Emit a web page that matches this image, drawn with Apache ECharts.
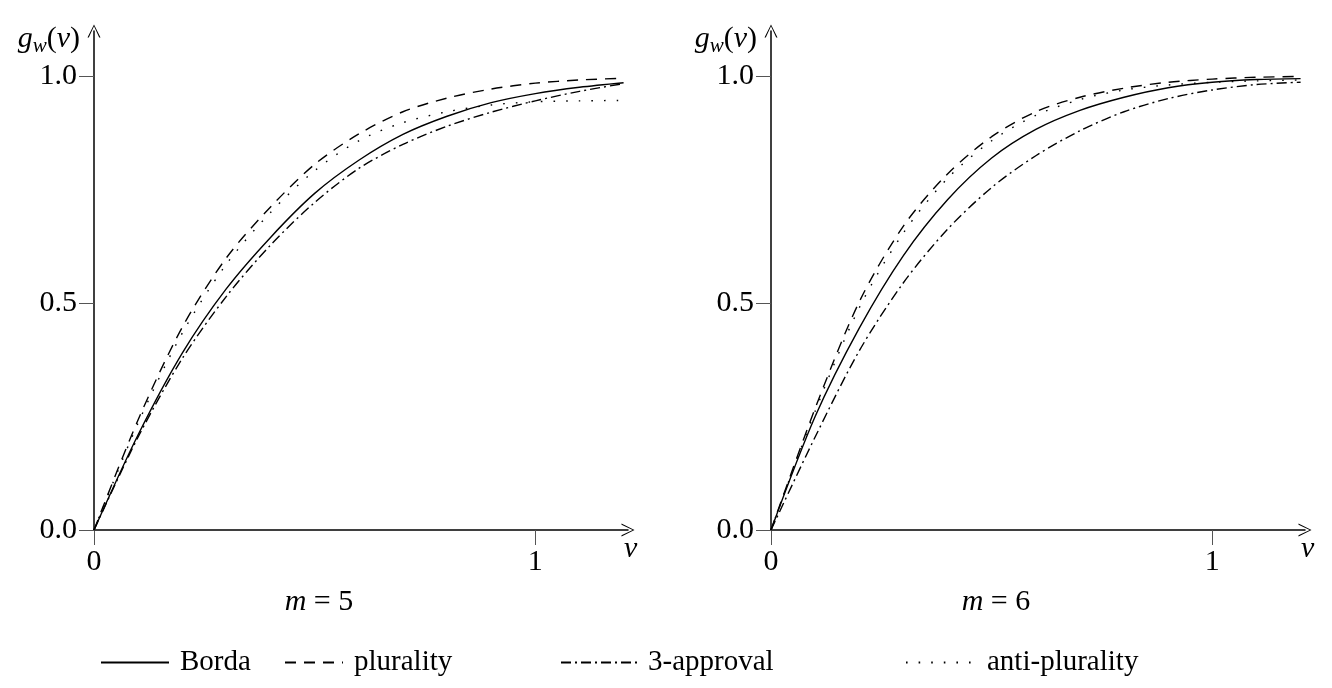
<!DOCTYPE html>
<html>
<head>
    <meta charset="utf-8">
    <title>g_w(v)</title>
    <script src="https://cdn.jsdelivr.net/npm/echarts@6/dist/echarts.min.js"></script>
    <style>
        html, body { margin: 0; padding: 0; background: #fff; }
        #chart { width: 1332px; height: 688px; }
    </style>
</head>
<body>
    <div id="chart"></div>
</body>
<script>
    // v values shared by every curve
    var vs = [0, 0.1, 0.2, 0.3, 0.4, 0.5, 0.6, 0.7, 0.8, 0.9, 1.0, 1.1, 1.2];

    // m = 5
    var bordaM5 = [0, 0.21, 0.39, 0.532, 0.645, 0.742, 0.815, 0.872, 0.912, 0.942, 0.962, 0.976, 0.986];
    var pluralityM5 = [0, 0.243, 0.447, 0.6, 0.712, 0.806, 0.873, 0.922, 0.952, 0.972, 0.985, 0.992, 0.996];
    var approvalM5 = [0, 0.205, 0.378, 0.515, 0.628, 0.722, 0.797, 0.85, 0.89, 0.921, 0.946, 0.967, 0.984];
    var antiM5 = [0, 0.236, 0.434, 0.586, 0.7, 0.792, 0.858, 0.898, 0.922, 0.937, 0.944, 0.946, 0.947];

    // m = 6
    var bordaM6 = [0, 0.25, 0.445, 0.605, 0.728, 0.82, 0.883, 0.925, 0.954, 0.975, 0.987, 0.993, 0.995];
    var pluralityM6 = [0, 0.268, 0.503, 0.67, 0.785, 0.867, 0.922, 0.954, 0.974, 0.987, 0.994, 0.998, 1.0];
    var approvalM6 = [0, 0.205, 0.395, 0.545, 0.663, 0.755, 0.825, 0.88, 0.922, 0.951, 0.97, 0.982, 0.987];
    var antiM6 = [0, 0.262, 0.49, 0.655, 0.775, 0.858, 0.914, 0.949, 0.97, 0.981, 0.987, 0.99, 0.992];

    var xTicks = [0, 1];
    var xTickLabels = ['0', '1'];
    var yTicks = [0, 0.5, 1];
    var yTickLabels = ['0.0', '0.5', '1.0'];
    var panelTitles = ['5', '6'];

    var FONT = 'Liberation Serif';
    var ARROW = 'path://M50,0 L100,100 L90,100 L50,14 L10,100 L0,100 Z';

    function pairs(ys) {
        return vs.map(function (v, i) { return [v, ys[i]]; });
    }

    function xAxisFor(gi) {
        return {
            gridIndex: gi,
            type: 'value',
            min: 0,
            max: 1.21,
            name: 'v',
            nameLocation: 'end',
            nameGap: -4,
            nameTextStyle: {
                fontFamily: FONT, fontSize: 30, fontStyle: 'italic', color: '#000',
                verticalAlign: 'top', padding: [4, 0, 0, 0]
            },
            axisLine: {
                show: true, onZero: false,
                symbol: ['none', ARROW], symbolSize: [13, 17],
                lineStyle: { color: '#000', width: 1.5 }
            },
            axisTick: { show: true, length: 15, customValues: xTicks, lineStyle: { color: '#555', width: 1 } },
            axisLabel: {
                customValues: xTicks, margin: 17,
                fontFamily: FONT, fontSize: 30, color: '#000',
                formatter: function (val) { return xTickLabels[xTicks.indexOf(val)]; }
            },
            splitLine: { show: false }
        };
    }

    function yAxisFor(gi) {
        return {
            gridIndex: gi,
            type: 'value',
            min: 0,
            max: 1.1,
            name: '{i|g}{s|w}{n|(}{i|v}{n|)}',
            nameLocation: 'end',
            nameGap: -8,
            nameTextStyle: {
                align: 'right', verticalAlign: 'middle', padding: [0, 14, 0, 0],
                rich: {
                    i: { fontFamily: FONT, fontSize: 30, fontStyle: 'italic', color: '#000' },
                    n: { fontFamily: FONT, fontSize: 30, color: '#000' },
                    s: { fontFamily: FONT, fontSize: 21, fontStyle: 'italic', color: '#000', padding: [14, 0, 0, 0] }
                }
            },
            axisLine: {
                show: true, onZero: false,
                symbol: ['none', ARROW], symbolSize: [13, 17],
                lineStyle: { color: '#000', width: 1.5 }
            },
            axisTick: { show: true, length: 15, customValues: yTicks, lineStyle: { color: '#555', width: 1 } },
            axisLabel: {
                customValues: yTicks, margin: 17,
                fontFamily: FONT, fontSize: 30, color: '#000',
                formatter: function (val) { return yTickLabels[yTicks.indexOf(val)]; }
            },
            splitLine: { show: false }
        };
    }

    var styles = {
        'Borda': { type: 'solid' },
        'plurality': { type: [11, 8] },
        '3-approval': { type: [10, 4, 2, 4] },
        'anti-plurality': { type: [1.6, 11] }
    };

    function line(name, gi, ys) {
        return {
            name: name,
            type: 'line',
            xAxisIndex: gi,
            yAxisIndex: gi,
            data: pairs(ys),
            smooth: 0.3,
            symbol: 'none',
            silent: true,
            lineStyle: { color: '#000', width: 1.4, type: styles[name].type }
        };
    }

    function legendFor(name, left, width) {
        return {
            data: [name],
            left: left,
            top: 648,
            padding: 0,
            itemWidth: width,
            itemHeight: 14,
            selectedMode: false,
            itemStyle: { opacity: 0 },
            textStyle: { fontFamily: FONT, fontSize: 29, color: '#000', padding: [0, 0, 0, 6] }
        };
    }

    var chart = echarts.init(document.getElementById('chart'));
    var option = {
        backgroundColor: '#fff',
        animation: false,
        title: panelTitles.map(function (t, i) {
            return {
                text: '{i|m} = ' + t,
                left: i === 0 ? 314 : 991,
                top: 582,
                textAlign: 'center',
                textStyle: {
                    fontFamily: FONT, fontSize: 30, fontWeight: 'normal', color: '#000',
                    rich: { i: { fontFamily: FONT, fontSize: 30, fontStyle: 'italic', color: '#000' } }
                }
            };
        }),
        legend: [
            legendFor('Borda', 100, 68),
            legendFor('plurality', 284, 58),
            legendFor('3-approval', 560, 76),
            legendFor('anti-plurality', 905, 70)
        ],
        grid: [
            { left: 94, top: 31, width: 534, height: 499 },
            { left: 771, top: 31, width: 534, height: 499 }
        ],
        xAxis: [xAxisFor(0), xAxisFor(1)],
        yAxis: [yAxisFor(0), yAxisFor(1)],
        series: [
            line('Borda', 0, bordaM5),
            line('plurality', 0, pluralityM5),
            line('3-approval', 0, approvalM5),
            line('anti-plurality', 0, antiM5),
            line('Borda', 1, bordaM6),
            line('plurality', 1, pluralityM6),
            line('3-approval', 1, approvalM6),
            line('anti-plurality', 1, antiM6)
        ]
    };
    chart.setOption(option);
</script>
</html>
